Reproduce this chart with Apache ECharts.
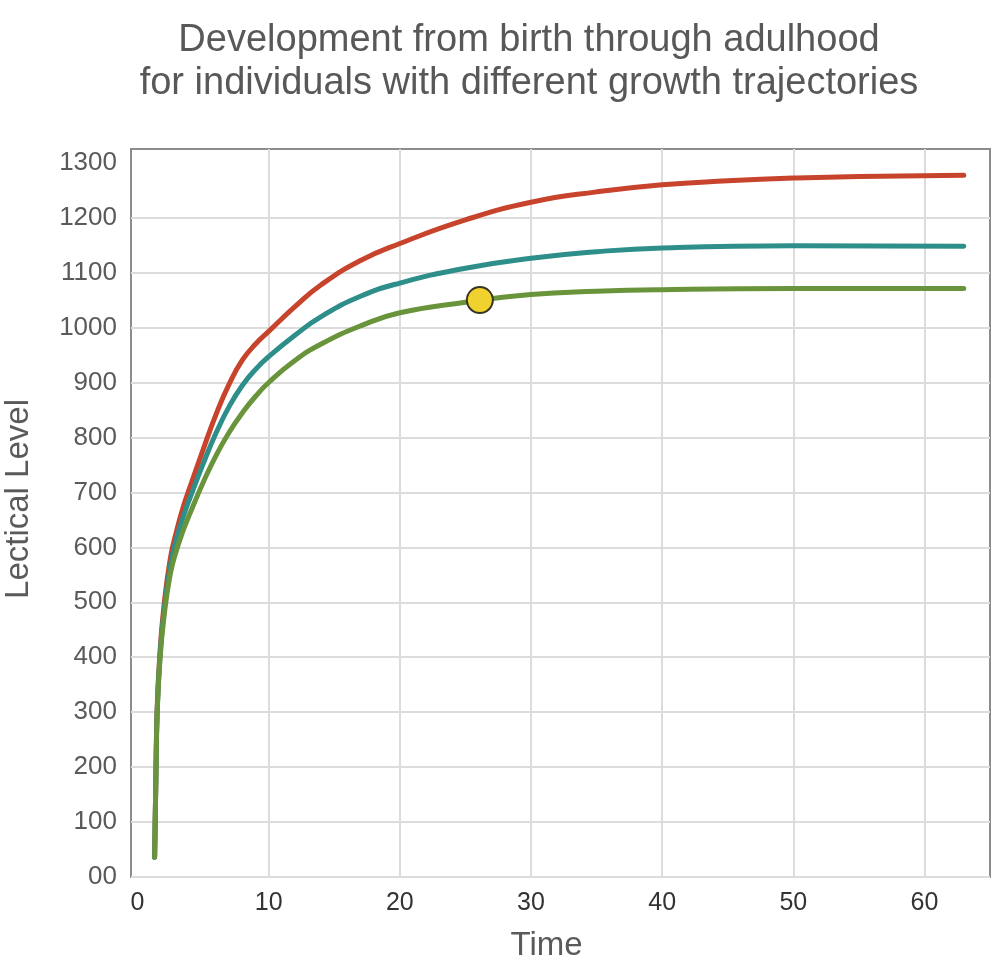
<!DOCTYPE html>
<html>
<head>
<meta charset="utf-8">
<title>Lectical Level growth</title>
<script src="https://cdn.jsdelivr.net/npm/echarts@6/dist/echarts.min.js"></script>
<style>
  html, body { margin: 0; padding: 0; background: #fff; }
  #growth-chart { width: 1000px; height: 967px; }
</style>
</head>
<body>
<div id="growth-chart"></div>
<script>
// values (time, lectical level)
const redPoints = [
  [1.3, 36], [1.4, 190], [1.5, 310], [1.7, 405], [2, 490], [2.5, 580], [3, 632],
  [3.5, 675], [4, 710], [5, 778], [6, 843], [7, 898], [8, 941], [9, 970], [10, 993],
  [12, 1038], [14, 1078], [17, 1122], [20, 1153], [25, 1196], [30, 1228], [35, 1247],
  [40, 1260], [45, 1267], [50, 1272], [55, 1275], [63, 1277]
]
const tealPoints = [
  [1.3, 36], [1.4, 185], [1.5, 305], [1.7, 398], [2, 480], [2.5, 566], [3, 618],
  [3.5, 657], [4, 690], [5, 752], [6, 809], [7, 857], [8, 895], [9, 924], [10, 947],
  [12, 986], [14, 1020], [17, 1057], [20, 1081], [25, 1108], [30, 1126], [35, 1138],
  [40, 1145], [50, 1149], [63, 1148]
]
const greenPoints = [
  [1.3, 36], [1.4, 180], [1.5, 300], [1.7, 392], [2, 470], [2.5, 552], [3, 597],
  [3.5, 632], [4, 662], [5, 718], [6, 768], [7, 810], [8, 845], [9, 875],
  [10, 900], [12, 940], [14, 970], [17, 1003], [20, 1027], [25, 1046], [30, 1060],
  [35, 1066], [40, 1069], [50, 1071], [63, 1071]
]
const markedPoint = [[26.1, 1050]]

const font = 'Liberation Sans, Arial, sans-serif'

function lineSeries(points, color) {
  return {
    type: 'line',
    data: points,
    showSymbol: false,
    smooth: 0.5,
    lineStyle: { color: color, width: 5, cap: 'round', join: 'round' },
    z: 3
  }
}

const chart = echarts.init(document.getElementById('growth-chart'))
chart.setOption({
  animation: false,
  title: {
    text: 'Development from birth through adulhood\nfor individuals with different growth trajectories',
    left: 524,
    top: 14,
    textAlign: 'center',
    textStyle: {
      fontFamily: font,
      fontSize: 38,
      fontWeight: 'normal',
      color: '#585858',
      lineHeight: 43
    }
  },
  grid: {
    left: 131,
    right: 10,
    top: 149,
    bottom: 90,
    outerBoundsMode: 'none',
    containLabel: false,
    show: true,
    borderColor: '#8c8c8c',
    borderWidth: 2
  },
  xAxis: {
    type: 'value',
    min: -0.5,
    max: 65,
    name: 'Time',
    nameLocation: 'middle',
    nameGap: 52,
    nameTextStyle: { fontFamily: font, fontSize: 33, color: '#5a5a5a', padding: [0, 28, 0, 0] },
    axisLine: { show: false },
    axisTick: { show: false },
    axisLabel: {
      fontFamily: font,
      fontSize: 25,
      color: '#333',
      margin: 14,
      formatter: v => (v % 10 === 0 ? String(v) : '')
    },
    splitLine: {
      lineStyle: {
        width: 2,
        color: ['rgba(0,0,0,0)', 'rgba(0,0,0,0)', '#dcdcdc', '#dcdcdc', '#dcdcdc',
                '#dcdcdc', '#dcdcdc', '#dcdcdc', 'rgba(0,0,0,0)']
      }
    }
  },
  yAxis: {
    type: 'value',
    min: 0,
    max: 1325,
    interval: 100,
    name: 'Lectical Level',
    nameLocation: 'middle',
    nameGap: 96,
    nameTextStyle: { fontFamily: font, fontSize: 33, color: '#5a5a5a', padding: [0, 0, 0, 28] },
    axisLine: { show: false },
    axisTick: { show: false },
    axisLabel: {
      fontFamily: font,
      fontSize: 26,
      color: '#5a5a5a',
      margin: 14,
      formatter: v => (v === 0 ? '00' : (v % 100 === 0 ? String(v) : ''))
    },
    splitLine: {
      lineStyle: {
        width: 2,
        color: ['#dcdcdc', '#dcdcdc', '#dcdcdc', '#dcdcdc', '#dcdcdc', '#dcdcdc', '#dcdcdc',
                '#dcdcdc', '#dcdcdc', '#dcdcdc', '#dcdcdc', '#dcdcdc', '#dcdcdc',
                'rgba(0,0,0,0)', 'rgba(0,0,0,0)']
      }
    }
  },
  series: [
    lineSeries(redPoints, '#c8432b'),
    lineSeries(tealPoints, '#2e8e89'),
    lineSeries(greenPoints, '#6a943b'),
    {
      type: 'scatter',
      data: markedPoint,
      symbolSize: 26,
      itemStyle: { color: '#f0d22e', borderColor: '#3a3426', borderWidth: 2, opacity: 1 },
      z: 5
    }
  ]
})
</script>
</body>
</html>
